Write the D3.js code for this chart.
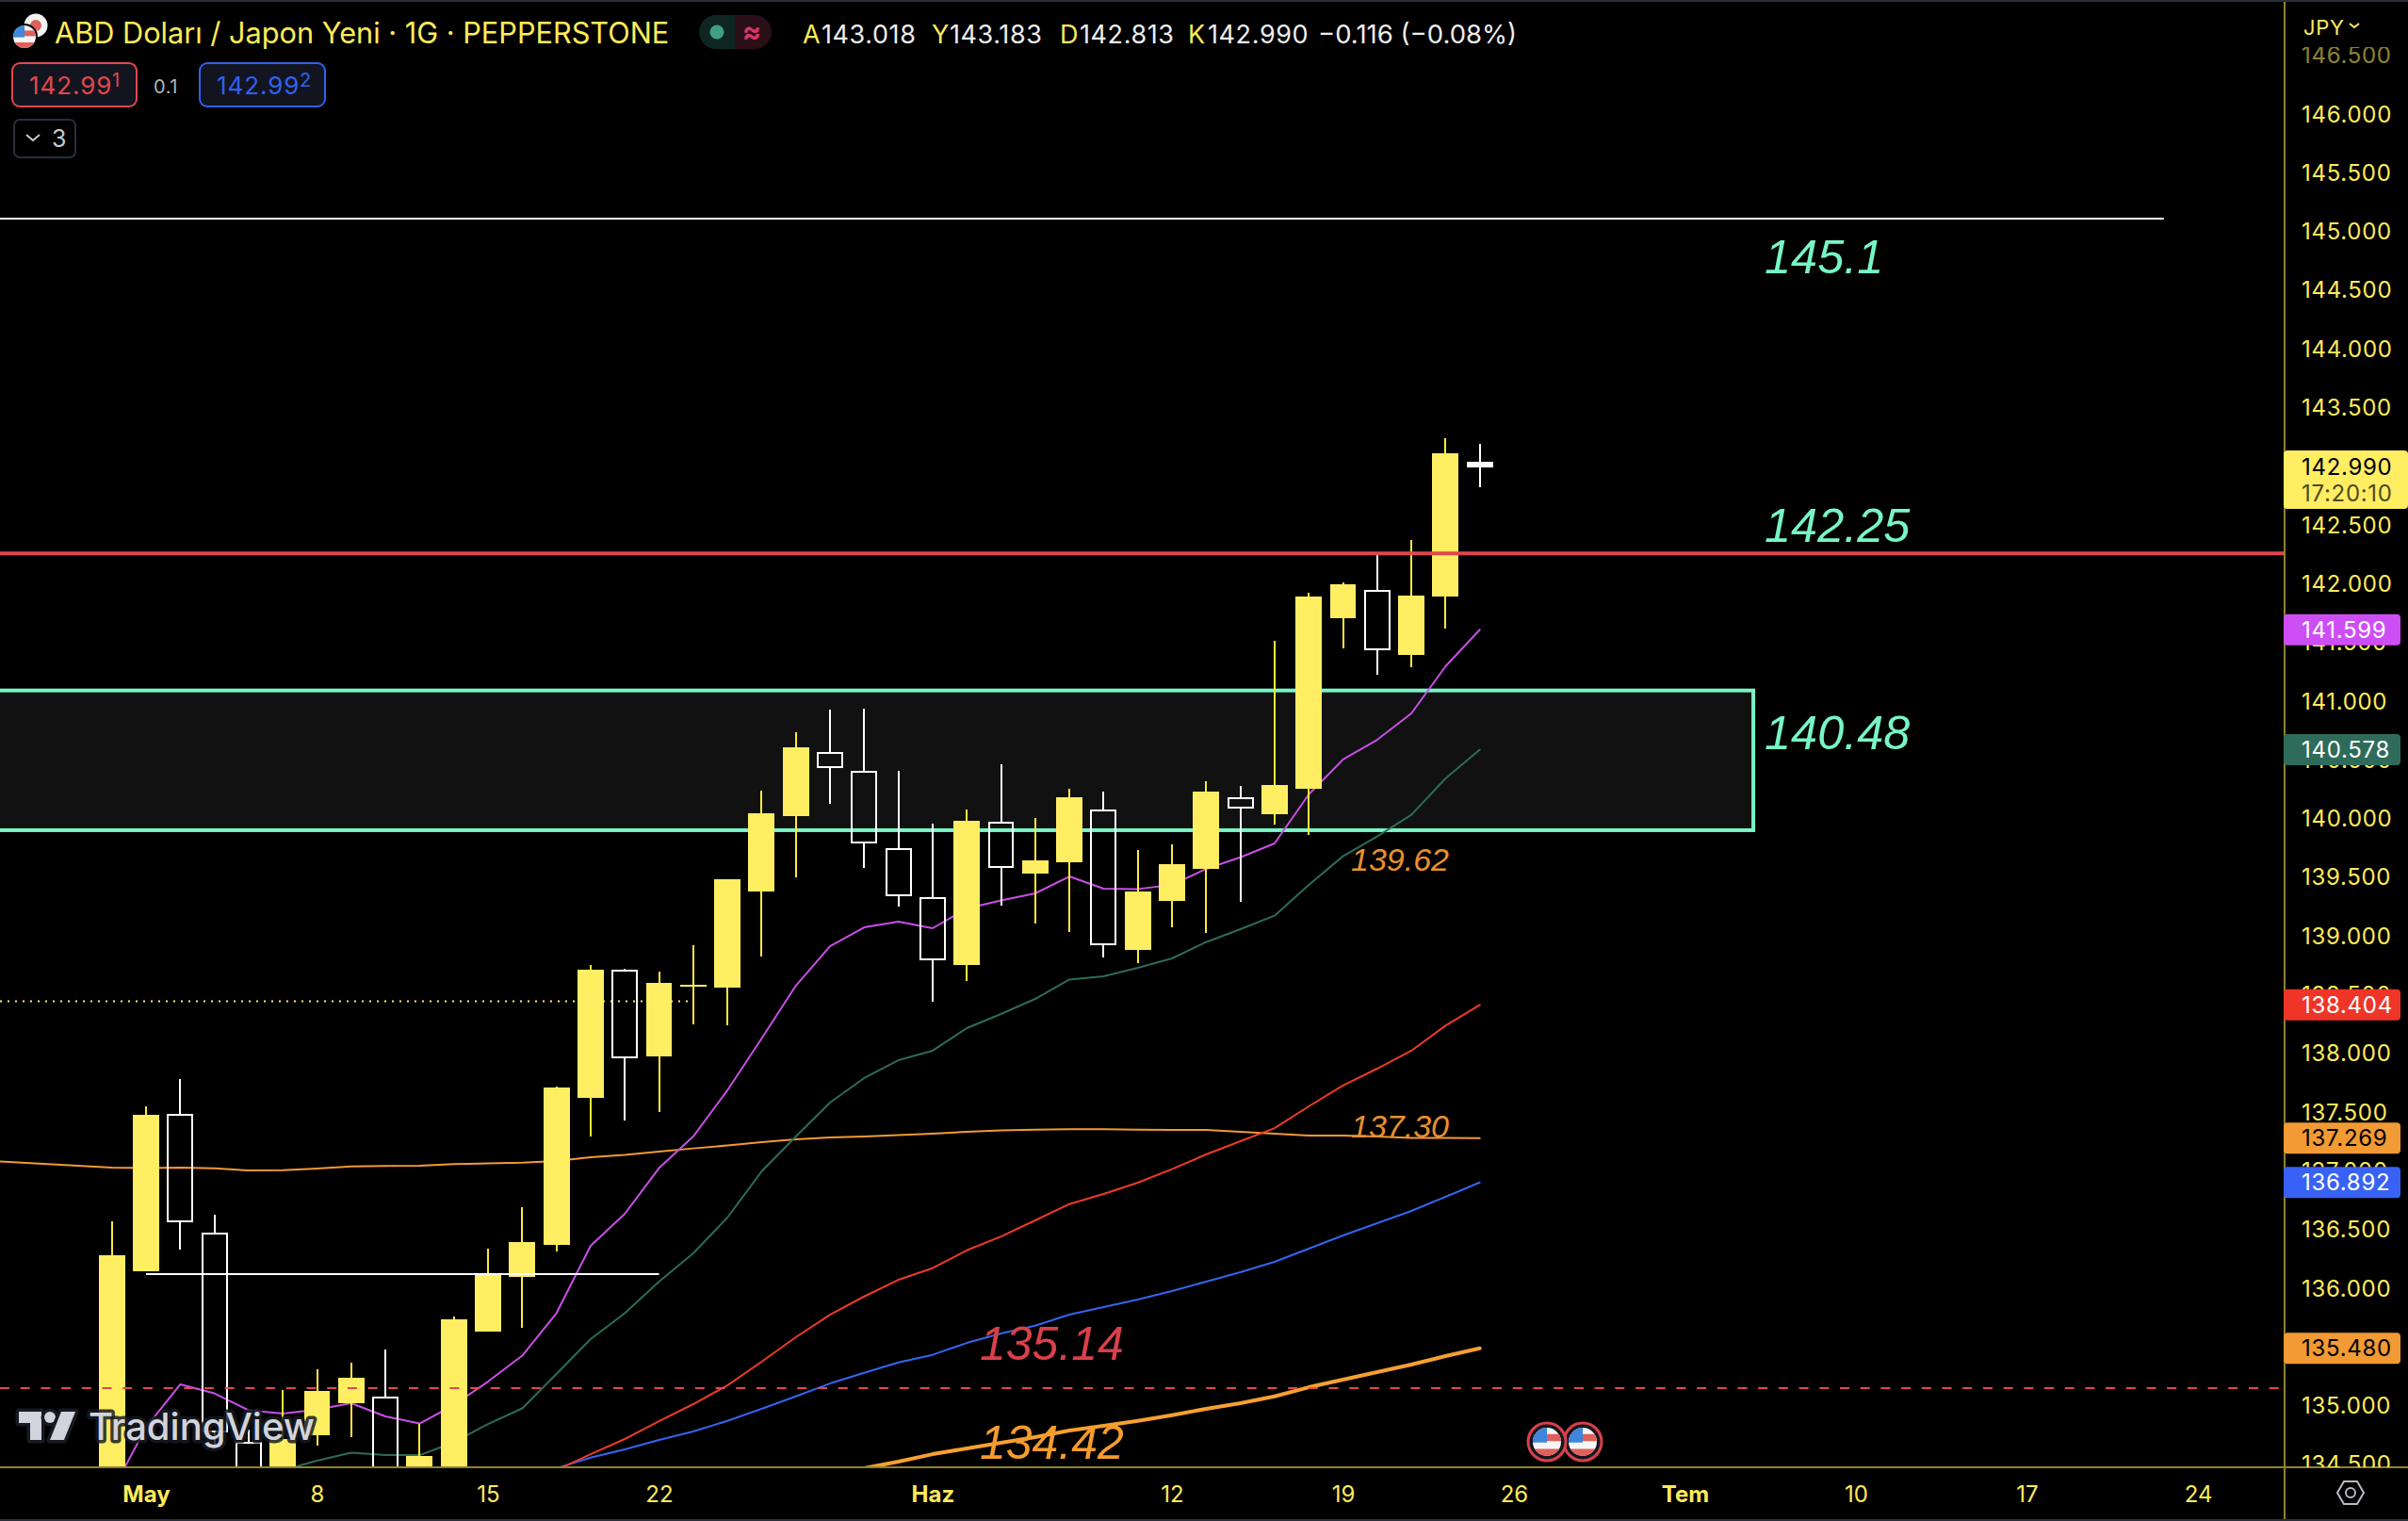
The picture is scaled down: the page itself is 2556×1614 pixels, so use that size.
<!DOCTYPE html>
<html>
<head>
<meta charset="utf-8">
<script src="https://cdn.jsdelivr.net/npm/d3@7"></script>
<style>
  html, body { margin: 0; padding: 0; background: #000; overflow: hidden; }
  text { font-family: Inter, "Liberation Sans", sans-serif; }
  .note { font-family: "Liberation Sans", sans-serif; font-style: italic; }
</style>
</head>
<body>
<div id="chart"></div>
<script>
// candles, day index 0 is 1 May, weekends are skipped
var firstDay = -1
var opens = [134.0,136.139,137.468,136.457,134.675,134.1,134.739,135.012,135.06,134.0,134.3,135.622,136.087,136.36,137.616,138.692,137.969,138.562,138.555,139.372,140.014,140.546,140.392,139.735,139.317,138.746,139.953,139.526,139.621,140.063,138.875,139.293,139.566,140.168,140.028,140.245,141.7,141.933,141.386,141.884,143.018]
var highs = [136.561,137.54,137.773,136.617,134.787,135.124,135.301,135.357,135.469,134.839,135.75,136.328,136.681,137.705,138.744,138.712,138.688,138.912,139.474,140.229,140.726,140.919,140.927,140.398,139.944,140.068,140.453,139.996,140.245,140.221,139.723,139.771,140.309,140.272,141.505,141.914,142.002,142.243,142.364,143.23,143.183]
var lows = [133.9,136.135,136.32,134.643,134.0,134.0,134.651,134.723,134.1,133.9,134.2,135.622,135.654,136.304,137.287,137.42,137.492,138.242,138.233,138.819,139.492,140.119,139.572,139.238,138.433,138.611,139.253,139.099,139.028,138.811,138.764,139.068,139.013,139.283,139.943,139.854,141.441,141.218,141.282,141.613,142.813]
var closes = [136.272,137.468,136.561,134.771,134.1,134.707,135.116,135.229,134.2,134.562,135.726,136.111,136.384,137.7,138.704,137.957,138.591,138.579,139.474,140.036,140.598,140.426,139.784,139.335,138.789,139.972,139.575,139.631,140.173,138.918,139.37,139.603,140.221,140.082,140.277,141.882,141.986,141.429,141.89,143.102,142.99]

// moving averages
var purpleStart = -1
var purpleMa = [134.257,134.807,135.172,135.096,134.952,134.924,134.958,135.012,134.9,134.839,134.996,135.196,135.417,135.778,136.352,136.625,137.014,137.283,137.677,138.118,138.567,138.904,139.065,139.113,139.057,139.225,139.293,139.354,139.498,139.394,139.391,139.426,139.563,139.661,139.779,140.197,140.494,140.662,140.887,141.288,141.599]
var greenStart = 3
var greenMa = [134.322,134.442,134.522,134.59,134.571,134.57,134.679,134.835,134.968,135.261,135.558,135.778,136.047,136.288,136.593,136.986,137.283,137.572,137.781,137.933,138.014,138.206,138.327,138.455,138.62,138.648,138.72,138.8,138.939,139.049,139.164,139.426,139.67,139.839,140.023,140.333,140.578]
var redStart = 12
var redMa = [134.442,134.578,134.707,134.859,135.004,135.164,135.365,135.574,135.766,135.921,136.063,136.162,136.314,136.432,136.569,136.708,136.794,136.89,137.005,137.131,137.243,137.355,137.54,137.717,137.861,138.014,138.227,138.404]
var blueStart = 12
var blueMa = [134.458,134.549,134.619,134.699,134.771,134.862,134.964,135.07,135.18,135.271,135.359,135.424,135.525,135.606,135.672,135.766,135.831,135.895,135.967,136.047,136.127,136.216,136.328,136.441,136.545,136.649,136.77,136.892]
var orangeStart = 21
var orangeMa = [134.458,134.514,134.578,134.627,134.675,134.723,134.779,134.819,134.862,134.91,134.964,135.012,135.07,135.148,135.213,135.277,135.341,135.413,135.48]
var longStart = -5
var longMa = [137.083,137.067,137.05,137.034,137.018,137.014,137.018,137.013,136.994,136.997,137.01,137.029,137.032,137.034,137.048,137.054,137.06,137.074,137.107,137.127,137.155,137.182,137.207,137.235,137.259,137.275,137.283,137.296,137.307,137.323,137.336,137.342,137.345,137.345,137.342,137.339,137.339,137.323,137.307,137.291,137.291,137.283,137.271,137.271,137.269]

// axis ticks
var priceTicks = [146.5,146,145.5,145,144.5,144,143.5,142.5,142,141.5,141,140.5,140,139.5,139,138.5,138,137.5,137,136.5,136,135,134.5]
var timeTicks = [0,5,10,15,23,30,35,40,45,50,55,60]
var timeLabels = ["May","8","15","22","Haz","12","19","26","Tem","10","17","24"]
var boldLabels = ["May","Haz","Tem"]

// drawn levels
var resistance = 145.1, resistanceEnd = 59
var redLevel = 142.25
var zoneTop = 141.082, zoneBottom = 139.892, zoneEnd = 47
var dashedLevel = 135.14
var dottedLevel = 138.434, dottedEnd = 16
var whiteLevel = 136.111, whiteFrom = 0, whiteEnd = 15

// right axis tags
var tagPrices = [141.599,140.578,138.404,137.269,136.892,135.48]
var tagColors = ["#ce4ef5","#2f6b5a","#ee3528","#f29a33","#3862f5","#f29a33"]
var tagText = ["#fff","#fff","#fff","#000","#fff","#000"]

var yellow = "#ffee62", gold = "#ffeb5a", axisLine = "#8f8230", teal = "#78f5c6"

var paneRight = 2425, paneBottom = 1557

var x = d3.scaleLinear().domain([0, 40]).range([155, 1607])
var y = d3.scaleLinear().domain([140, 135]).range([867.5, 1490.5])

var svg = d3.select("#chart").append("svg")
  .attr("width", 2556)
  .attr("height", 1614)
  .style("display", "block")
  .style("background", "#000")

var defs = svg.append("defs")
defs.append("clipPath").attr("id", "pane").append("rect")
  .attr("width", paneRight).attr("height", paneBottom)
defs.append("clipPath").attr("id", "scale").append("rect")
  .attr("x", paneRight).attr("y", 50).attr("width", 131).attr("height", paneBottom - 50)

var pane = svg.append("g").attr("clip-path", "url(#pane)")

// zone and dotted line sit below the candles
pane.append("rect")
  .attr("x", -10)
  .attr("y", y(zoneTop))
  .attr("width", x(zoneEnd) + 10)
  .attr("height", y(zoneBottom) - y(zoneTop))
  .attr("fill", "#111")
  .attr("stroke", teal)
  .attr("stroke-width", 4)

pane.append("line")
  .attr("x1", 0).attr("x2", x(dottedEnd))
  .attr("y1", y(dottedLevel)).attr("y2", y(dottedLevel))
  .attr("stroke", yellow).attr("stroke-width", 2).attr("stroke-dasharray", "2,6")

function drawMa(values, start, color, width) {
  var line = d3.line()
    .x(function(d, i) { return x(start + i) })
    .y(function(d) { return y(d) })
  pane.append("path")
    .datum(values)
    .attr("d", line)
    .attr("fill", "none")
    .attr("stroke", color)
    .attr("stroke-width", width)
    .attr("stroke-linejoin", "round")
    .attr("stroke-linecap", "round")
}
drawMa(longMa, longStart, "#f29a33", 2)
drawMa(orangeMa, orangeStart, "#f7a030", 4)
drawMa(blueMa, blueStart, "#3564f0", 2)
drawMa(redMa, redStart, "#ee3a2a", 2)
drawMa(greenMa, greenStart, "#2d6b59", 2)
drawMa(purpleMa, purpleStart, "#c84fe6", 2)

// candles
var bodyWidth = (x(1) - x(0)) * 0.77
var candles = pane.append("g").attr("shape-rendering", "crispEdges")
  .selectAll("g")
  .data(opens)
  .enter().append("g")

function isUp(i) { return closes[i] >= opens[i] }

candles.append("line")
  .attr("x1", function(d, i) { return x(firstDay + i) })
  .attr("x2", function(d, i) { return x(firstDay + i) })
  .attr("y1", function(d, i) { return y(highs[i]) })
  .attr("y2", function(d, i) { return y(Math.max(opens[i], closes[i])) })
  .attr("stroke", function(d, i) { return isUp(i) ? "#ffe93b" : "#fff" })
  .attr("stroke-width", 2)
candles.append("line")
  .attr("x1", function(d, i) { return x(firstDay + i) })
  .attr("x2", function(d, i) { return x(firstDay + i) })
  .attr("y1", function(d, i) { return y(Math.min(opens[i], closes[i])) })
  .attr("y2", function(d, i) { return y(lows[i]) })
  .attr("stroke", function(d, i) { return isUp(i) ? "#ffe93b" : "#fff" })
  .attr("stroke-width", 2)
candles.append("rect")
  .attr("x", function(d, i) { return x(firstDay + i) - bodyWidth / 2 + (isUp(i) ? 0 : 1) })
  .attr("width", function(d, i) { return isUp(i) ? bodyWidth : bodyWidth - 2 })
  .attr("y", function(d, i) { return y(Math.max(opens[i], closes[i])) })
  .attr("height", function(d, i) { return Math.abs(y(opens[i]) - y(closes[i])) })
  .attr("fill", function(d, i) {
    if (isUp(i)) return yellow
    return opens[i] - closes[i] < 0.05 ? "#fff" : "none"
  })
  .attr("stroke", function(d, i) { return isUp(i) ? "none" : "#fff" })
  .attr("stroke-width", 2)

// levels over the candles
function level(price, x1, x2, color, width, dash) {
  pane.append("line")
    .attr("x1", x1).attr("x2", x2)
    .attr("y1", y(price)).attr("y2", y(price))
    .attr("stroke", color)
    .attr("stroke-width", width)
    .attr("stroke-dasharray", dash || null)
}
level(resistance, 0, x(resistanceEnd), "#fff", 2)
level(redLevel, 0, paneRight, "#e0484e", 4)
level(dashedLevel, 0, paneRight, "#e0484e", 2, "10,11.7")
level(whiteLevel, x(whiteFrom), x(whiteEnd), "#fff", 2)

// notes written on the chart
var noteText = ["145.1","142.25","140.48","139.62","137.30","135.14","134.42"]
var noteX = [1873,1873,1873,1434,1434,1040,1040]
var noteY = [290,575,795,924,1207,1443,1548]
var noteSize = [50.5,50.5,50.5,34,34,50,50]
var noteColor = [teal,teal,teal,"#e8912d","#e8912d","#d9404a","#f59c2d"]
svg.append("g").selectAll("text")
  .data(noteText)
  .enter().append("text")
  .attr("class", "note")
  .attr("x", function(d, i) { return noteX[i] })
  .attr("y", function(d, i) { return noteY[i] })
  .attr("font-size", function(d, i) { return noteSize[i] })
  .attr("fill", function(d, i) { return noteColor[i] })
  .text(function(d) { return d })

// flag badges
var flagCount = 0
function usFlag(parent, cx, cy, r) {
  var id = "flag" + (flagCount++)
  defs.append("clipPath").attr("id", id).append("circle")
    .attr("cx", cx).attr("cy", cy).attr("r", r)
  var g = parent.append("g").attr("clip-path", "url(#" + id + ")")
  g.append("rect").attr("x", cx - r).attr("y", cy - r).attr("width", 2 * r).attr("height", 2 * r).attr("fill", "#f5f5f5")
  g.append("rect").attr("x", cx - r).attr("y", cy - r * 0.55).attr("width", 2 * r).attr("height", r * 0.5).attr("fill", "#e0605c")
  g.append("rect").attr("x", cx - r).attr("y", cy + r * 0.5).attr("width", 2 * r).attr("height", r * 0.6).attr("fill", "#e0605c")
  g.append("rect").attr("x", cx - r).attr("y", cy - r).attr("width", r).attr("height", r * 1.05).attr("fill", "#3f86dd")
}
var badgeX = [1680, 1642]
badgeX.forEach(function(cx) {
  svg.append("circle").attr("cx", cx).attr("cy", 1530).attr("r", 20).attr("fill", "#15171f").attr("stroke", "#d9404a").attr("stroke-width", 3)
  usFlag(svg, cx, 1530, 15)
})

// scale panel and lines
svg.append("line").attr("x1", paneRight).attr("x2", paneRight).attr("y1", 2).attr("y2", 1614)
  .attr("stroke", axisLine).attr("stroke-width", 2)
svg.append("line").attr("x1", 0).attr("x2", 2556).attr("y1", paneBottom).attr("y2", paneBottom)
  .attr("stroke", axisLine).attr("stroke-width", 2)
svg.append("rect").attr("width", 2556).attr("height", 2).attr("fill", "#2a2e39")
svg.append("rect").attr("y", 1612).attr("width", 2556).attr("height", 2).attr("fill", "#2a2e39")

var priceAxis = svg.append("g")
  .attr("clip-path", "url(#scale)")
  .append("g")
  .attr("transform", "translate(" + paneRight + ",0)")
  .call(d3.axisRight(y).tickValues(priceTicks).tickSize(0).tickPadding(18).tickFormat(d3.format(".3f")))
priceAxis.select(".domain").remove()
priceAxis.selectAll("text")
  .attr("font-family", null)
  .attr("font-size", 24)
  .attr("letter-spacing", 0.7)
  .attr("dy", "0.38em")
  .attr("fill", gold)
  .attr("opacity", function(d) { return d == 146.5 ? 0.55 : 1 })

var timeAxis = svg.append("g")
  .attr("transform", "translate(0," + paneBottom + ")")
  .call(d3.axisBottom(x).tickValues(timeTicks).tickSize(0).tickPadding(20)
    .tickFormat(function(d, i) { return timeLabels[i] }))
timeAxis.select(".domain").remove()
timeAxis.selectAll("text")
  .attr("font-family", null)
  .attr("font-size", 24)
  .attr("fill", gold)
  .attr("font-weight", function(d, i) { return boldLabels.indexOf(timeLabels[i]) >= 0 ? 700 : 400 })

// price tags
var tags = svg.append("g").selectAll("g").data(tagPrices).enter().append("g")
tags.append("rect")
  .attr("x", paneRight - 1)
  .attr("y", function(d) { return y(d) - 16.5 })
  .attr("width", 124)
  .attr("height", 33)
  .attr("rx", 4)
  .attr("fill", function(d, i) { return tagColors[i] })
tags.append("text")
  .attr("x", 2443)
  .attr("y", function(d) { return y(d) })
  .attr("dy", "0.36em")
  .attr("font-size", 24)
  .attr("letter-spacing", 0.7)
  .attr("fill", function(d, i) { return tagText[i] })
  .text(function(d) { return d.toFixed(3) })

var lastClose = closes[closes.length - 1]
svg.append("rect")
  .attr("x", paneRight - 1).attr("y", y(lastClose) - 17)
  .attr("width", 132).attr("height", 62).attr("rx", 4).attr("fill", yellow)
svg.append("text").attr("x", 2443).attr("y", y(lastClose)).attr("dy", "0.36em")
  .attr("font-size", 24).attr("letter-spacing", 0.7).attr("fill", "#000").text(lastClose.toFixed(3))
svg.append("text").attr("x", 2443).attr("y", y(lastClose) + 28).attr("dy", "0.36em")
  .attr("font-size", 24).attr("letter-spacing", 0.7).attr("fill", "#4e4a1e").text("17:20:10")

svg.append("text").attr("x", 2445).attr("y", 37).attr("font-size", 22).attr("letter-spacing", 0.7).attr("fill", gold).text("JPY")
svg.append("path").attr("d", "M2494,25 l5,4 l5,-4").attr("fill", "none").attr("stroke", gold).attr("stroke-width", 2)

// settings icon in the corner
svg.append("path")
  .attr("d", "M2481,1584 l7,-12 h14 l7,12 l-7,12 h-14 z")
  .attr("fill", "none").attr("stroke", "#b8bbc4").attr("stroke-width", 2)
svg.append("circle").attr("cx", 2495).attr("cy", 1584).attr("r", 5)
  .attr("fill", "none").attr("stroke", "#b8bbc4").attr("stroke-width", 2)

// header
svg.append("circle").attr("cx", 38).attr("cy", 27).attr("r", 12.5).attr("fill", "#f2f2f2")
svg.append("circle").attr("cx", 38).attr("cy", 27).attr("r", 6).attr("fill", "#e0605c")
svg.append("circle").attr("cx", 26).attr("cy", 39).attr("r", 14).attr("fill", "#000")
usFlag(svg, 26, 39, 12)

svg.append("text").attr("x", 58).attr("y", 46).attr("font-size", 30.7).attr("fill", gold)
  .text("ABD Doları / Japon Yeni · 1G · PEPPERSTONE")

svg.append("path").attr("d", "M780,16 h-20 a18,18 0 0 0 0,36 h20 z").attr("fill", "#0f2620")
svg.append("path").attr("d", "M780,16 h21 a18,18 0 0 1 0,36 h-21 z").attr("fill", "#2a0f18")
svg.append("circle").attr("cx", 761).attr("cy", 34).attr("r", 7.5).attr("fill", "#3f9f85")
svg.append("text").attr("x", 798).attr("y", 44).attr("text-anchor", "middle").attr("font-size", 30).attr("font-weight", 700).attr("fill", "#d9356a").text("≈")

var ohlcLetters = ["A","Y","D","K"]
var ohlcValues = ["143.018","143.183","142.813","142.990"]
var ohlcX = [852,989,1125,1261]
var ohlcValueX = [872,1008,1146,1282]
ohlcLetters.forEach(function(d, i) {
  svg.append("text").attr("x", ohlcX[i]).attr("y", 46).attr("font-size", 27).attr("fill", gold).text(d)
  svg.append("text").attr("x", ohlcValueX[i]).attr("y", 46).attr("font-size", 27).attr("letter-spacing", 0.6).attr("fill", "#eee").text(ohlcValues[i])
})
svg.append("text").attr("x", 1399).attr("y", 46).attr("font-size", 27.5).attr("fill", "#eee").text("−0.116 (−0.08%)")

function priceBox(bx, w, color, value, sup) {
  svg.append("rect").attr("x", bx).attr("y", 67).attr("width", w).attr("height", 46).attr("rx", 8)
    .attr("fill", "#12151f").attr("stroke", color).attr("stroke-width", 2)
  svg.append("text").attr("x", bx + 18).attr("y", 100).attr("font-size", 26).attr("letter-spacing", 0.9).attr("fill", color).text(value)
  svg.append("text").attr("x", bx + 106).attr("y", 92).attr("font-size", 20).attr("fill", color).text(sup)
}
priceBox(13, 132, "#e0484e", "142.99", "1")
priceBox(212, 133, "#3060f0", "142.99", "2")
svg.append("text").attr("x", 163).attr("y", 99).attr("font-size", 20).attr("letter-spacing", 0.6).attr("fill", "#b2b5be").text("0.1")

svg.append("rect").attr("x", 15).attr("y", 127).attr("width", 65).attr("height", 40).attr("rx", 6)
  .attr("fill", "none").attr("stroke", "#2a2e39").attr("stroke-width", 2)
svg.append("path").attr("d", "M28,143 l7,6 l7,-6").attr("fill", "none").attr("stroke", "#c8cad0").attr("stroke-width", 2)
svg.append("text").attr("x", 55).attr("y", 156).attr("font-size", 25).attr("fill", "#c8cad0").text("3")

// watermark
var mark = svg.append("g")
var logo = mark.append("g").attr("fill", "#d1d4dc").attr("stroke", "#171a22").attr("stroke-width", 7)
  .attr("stroke-linejoin", "round").style("paint-order", "stroke")
logo.append("path").attr("d", "M20,1498 h24 v30 h-12 v-18 h-12 z")
logo.append("circle").attr("cx", 53).attr("cy", 1504).attr("r", 6)
logo.append("path").attr("d", "M65,1498 h15 l-12,30 h-15 z")
mark.append("text")
  .attr("x", 94).attr("y", 1528)
  .attr("font-size", 40).attr("font-weight", 500)
  .attr("fill", "#d1d4dc")
  .attr("stroke", "#171a22").attr("stroke-width", 7).attr("stroke-opacity", 0.85).attr("stroke-linejoin", "round")
  .style("paint-order", "stroke")
  .text("TradingView")
</script>
</body>
</html>
